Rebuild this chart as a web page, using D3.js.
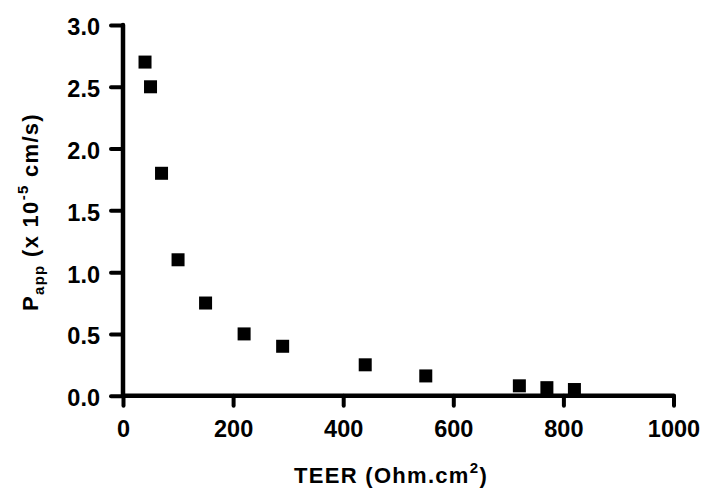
<!DOCTYPE html>
<html><head><meta charset="utf-8">
<script src="https://cdn.jsdelivr.net/npm/d3@7"></script>
<style>body{margin:0;background:#fff}svg{display:block}text{font-family:"Liberation Sans",Arial,sans-serif;font-weight:bold;fill:#000}</style>
</head><body>
<script>
const teer = [40, 50, 70, 100, 150, 220, 290, 440, 550, 720, 770, 820];
const papp = [2.7, 2.5, 1.8, 1.1, 0.75, 0.5, 0.4, 0.25, 0.16, 0.08, 0.065, 0.05];
const xTicks = [0, 200, 400, 600, 800, 1000];
const yTicks = [0, 0.5, 1.0, 1.5, 2.0, 2.5, 3.0];

const W = 705, H = 489;
const svg = d3.select("body").append("svg").attr("width", W).attr("height", H);
const x = d3.scaleLinear().domain([0, 1000]).range([123, 673.5]);
const y = d3.scaleLinear().domain([0, 3]).range([395.7, 25]);

const xAxis = svg.append("g").attr("transform", `translate(0,${y(0)})`)
  .call(d3.axisBottom(x).tickValues(xTicks).tickSize(10).tickPadding(15).tickFormat(d3.format("d")));
const yAxis = svg.append("g").attr("transform", `translate(${x(0)},0)`)
  .call(d3.axisLeft(y).tickValues(yTicks).tickSize(12).tickPadding(11).tickFormat(d3.format(".1f")));

[xAxis, yAxis].forEach(g => {
  g.select(".domain").remove();
  g.selectAll(".tick line").attr("stroke", "#000").attr("stroke-width", 4).attr("stroke-linecap", "round");
  g.selectAll(".tick text").style("font-size", "23.5px").attr("fill", "#000");
});
yAxis.selectAll(".tick text").attr("dy", "0.42em");
// axis lines
svg.append("line").attr("x1", x(0)).attr("x2", x(1000)).attr("y1", y(0)).attr("y2", y(0))
  .attr("stroke", "#000").attr("stroke-width", 4.5).attr("stroke-linecap", "round");
svg.append("line").attr("x1", x(0)).attr("x2", x(0)).attr("y1", y(0)).attr("y2", y(3))
  .attr("stroke", "#000").attr("stroke-width", 4.5).attr("stroke-linecap", "round");

const s = 13;
svg.append("g").selectAll("rect").data(teer).join("rect")
  .attr("x", (d) => x(d) - s / 2)
  .attr("y", (d, i) => y(papp[i]) - s / 2)
  .attr("width", s).attr("height", s).attr("fill", "#000");

// x label
const xl = svg.append("text").attr("x", 391).attr("y", 483).attr("text-anchor", "middle")
  .style("font-size", "22px").style("letter-spacing", "1.3px");
xl.append("tspan").text("TEER (Ohm.cm");
xl.append("tspan").attr("dy", -10).style("font-size", "15px").text("2");
xl.append("tspan").attr("dy", 10).text(")");

// y label
const yl = svg.append("text").attr("transform", "translate(38,212) rotate(-90)").attr("text-anchor", "middle")
  .style("font-size", "22px").style("letter-spacing", "1.3px");
yl.append("tspan").text("P");
yl.append("tspan").attr("dy", 6).style("font-size", "15px").text("app");
yl.append("tspan").attr("dy", -6).text(" (x 10");
yl.append("tspan").attr("dy", -10).style("font-size", "15px").text("-5");
yl.append("tspan").attr("dy", 10).text(" cm/s)");
</script>
</body></html>
